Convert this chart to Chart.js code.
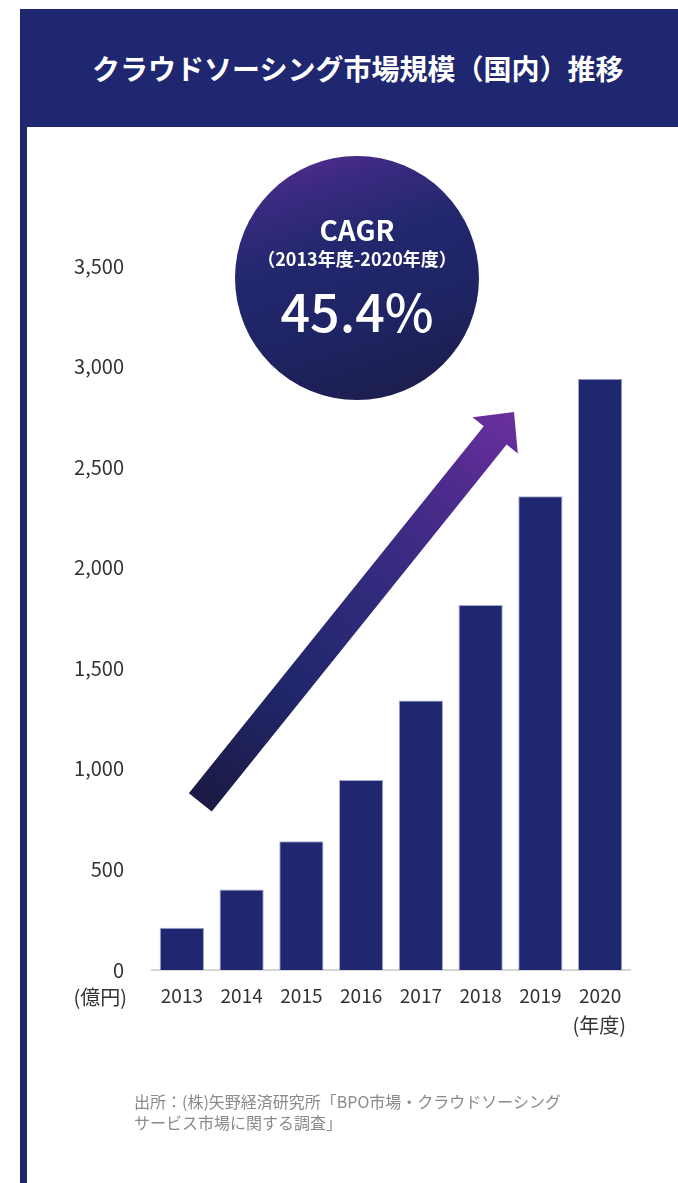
<!DOCTYPE html>
<html lang="ja">
<head>
<meta charset="utf-8">
<title>クラウドソーシング市場規模（国内）推移</title>
<script src="https://cdn.jsdelivr.net/npm/chart.js@4/dist/chart.umd.min.js"></script>
<style>
    html, body {
        margin: 0;
        padding: 0;
        background: #fff;
        font-family: "Noto Sans CJK JP", "Noto Sans", sans-serif;
    }
    .page {
        position: relative;
        width: 678px;
        height: 1183px;
        overflow: hidden;
    }
    #marketChart {
        position: absolute;
        left: 0;
        top: 0;
    }
    .side-line {
        position: absolute;
        left: 20px;
        top: 9px;
        width: 7px;
        height: 1174px;
        background: #1f2770;
    }
    .banner {
        position: absolute;
        left: 20px;
        top: 9px;
        width: 658px;
        height: 118px;
        background: #1f2770;
    }
    .banner h1 {
        position: absolute;
        left: 72px;
        top: 0;
        margin: 0;
        line-height: 118px;
        font-size: 28px;
        font-weight: bold;
        color: #fff;
        white-space: nowrap;
    }
    .cagr {
        position: absolute;
        left: 235px;
        top: 156px;
        width: 244px;
        height: 244px;
        border-radius: 50%;
        background: linear-gradient(162deg, #5e2d93 0%, #3a2a80 18%, #23286f 38%, #1f2465 62%, #1b1c46 100%);
        color: #fff;
        text-align: center;
    }
    .cagr .label {
        position: absolute;
        left: 0;
        width: 100%;
        top: 55px;
        font-size: 28px;
        font-weight: bold;
        line-height: 36px;
    }
    .cagr .period {
        position: absolute;
        left: 0;
        width: 100%;
        top: 90px;
        font-size: 18px;
        font-weight: bold;
        line-height: 24px;
    }
    .cagr .value {
        position: absolute;
        left: 0;
        width: 100%;
        top: 121px;
        font-size: 52px;
        font-weight: 500;
        line-height: 66px;
    }
    .source {
        position: absolute;
        left: 134px;
        top: 1091px;
        font-size: 16px;
        line-height: 21px;
        color: #8a8a8a;
        white-space: nowrap;
    }
</style>
</head>
<body>
<div class="page">
    <canvas id="marketChart" width="678" height="1183"></canvas>
    <div class="side-line"></div>
    <div class="banner"><h1>クラウドソーシング市場規模（国内）推移</h1></div>
    <div class="cagr">
        <div class="label">CAGR</div>
        <div class="period">（2013年度-2020年度）</div>
        <div class="value">45.4%</div>
    </div>
    <div class="source">出所：(株)矢野経済研究所「BPO市場・クラウドソーシング<br>サービス市場に関する調査」</div>
</div>

<script>
// ============================================
// DATA - market size in 億円 per fiscal year
// ============================================
const years = ['2013', '2014', '2015', '2016', '2017', '2018', '2019', '2020'];
const marketSize = [210, 400, 640, 945, 1340, 1815, 2355, 2940];
const yTicks = [0, 500, 1000, 1500, 2000, 2500, 3000, 3500];
const yUnitLabel = '(億円)';
const xUnitLabel = '(年度)';

const FONT = '"Noto Sans CJK JP", "Noto Sans", sans-serif';
const TEXT_COLOR = '#333333';

// ============================================
// PLUGIN - unit labels and the growth arrow
// ============================================
const decorPlugin = {
    id: 'decor',
    afterDraw(chart) {
        const ctx = chart.ctx;
        const area = chart.chartArea;
        const xScale = chart.scales.x;

        // unit labels
        ctx.save();
        ctx.fillStyle = TEXT_COLOR;
        ctx.font = '20px ' + FONT;
        ctx.textAlign = 'right';
        ctx.textBaseline = 'middle';
        ctx.fillText(yUnitLabel, area.left - 25, area.bottom + 27);
        ctx.fillText(xUnitLabel, xScale.getPixelForValue(years.length - 1) + 26, area.bottom + 55);
        ctx.restore();

        // growth arrow (decoration)
        const tail = { x: 200.3, y: 802.4 };
        const tip = { x: 514, y: 412 };
        const dx = tip.x - tail.x, dy = tip.y - tail.y;
        const len = Math.sqrt(dx * dx + dy * dy);
        const u = { x: dx / len, y: dy / len };
        const n = { x: -u.y, y: u.x };
        const headLen = 30;
        const shaftHalf = 14.7;
        const headHalf = 29;
        const base = { x: tip.x - u.x * headLen, y: tip.y - u.y * headLen };

        const grad = ctx.createLinearGradient(tail.x, tail.y, tip.x, tip.y);
        grad.addColorStop(0, '#1b1a44');
        grad.addColorStop(0.3, '#21276c');
        grad.addColorStop(0.55, '#312a7c');
        grad.addColorStop(0.8, '#4d2b8c');
        grad.addColorStop(1, '#6b2f9e');

        ctx.save();
        ctx.beginPath();
        ctx.moveTo(tail.x - n.x * shaftHalf, tail.y - n.y * shaftHalf);
        ctx.lineTo(base.x - n.x * shaftHalf, base.y - n.y * shaftHalf);
        ctx.lineTo(base.x - n.x * headHalf, base.y - n.y * headHalf);
        ctx.lineTo(tip.x, tip.y);
        ctx.lineTo(base.x + n.x * headHalf, base.y + n.y * headHalf);
        ctx.lineTo(base.x + n.x * shaftHalf, base.y + n.y * shaftHalf);
        ctx.lineTo(tail.x + n.x * shaftHalf, tail.y + n.y * shaftHalf);
        ctx.closePath();
        ctx.fillStyle = grad;
        ctx.fill();
        ctx.restore();
    }
};

// ============================================
// CHART
// ============================================
const ctx = document.getElementById('marketChart').getContext('2d');
const marketChart = new Chart(ctx, {
    type: 'bar',
    data: {
        labels: years,
        datasets: [{
            label: 'クラウドソーシング市場規模',
            data: marketSize,
            backgroundColor: '#1f2770',
            borderColor: 'rgba(105, 110, 170, 0.6)',
            borderWidth: 1,
            borderSkipped: 'bottom',
            categoryPercentage: 1,
            barPercentage: 0.74
        }]
    },
    options: {
        responsive: false,
        animation: false,
        layout: {
            padding: { left: 0, right: 48, top: 266, bottom: 0 }
        },
        plugins: {
            legend: { display: false },
            tooltip: { enabled: false }
        },
        scales: {
            x: {
                grid: { display: false },
                border: { display: true, color: '#d6d6d6', width: 2 },
                ticks: {
                    color: TEXT_COLOR,
                    font: { family: FONT, size: 19 },
                    padding: 6,
                    maxRotation: 0
                },
                afterFit(axis) {
                    axis.height = 213;
                }
            },
            y: {
                min: 0,
                max: yTicks[yTicks.length - 1],
                grid: { display: false },
                border: { display: false },
                afterBuildTicks(axis) {
                    axis.ticks = yTicks.map(v => ({ value: v }));
                },
                ticks: {
                    color: TEXT_COLOR,
                    font: { family: FONT, size: 20 },
                    padding: 20
                },
                afterFit(axis) {
                    axis.width = 152;
                }
            }
        }
    },
    plugins: [decorPlugin]
});
</script>
</body>
</html>
